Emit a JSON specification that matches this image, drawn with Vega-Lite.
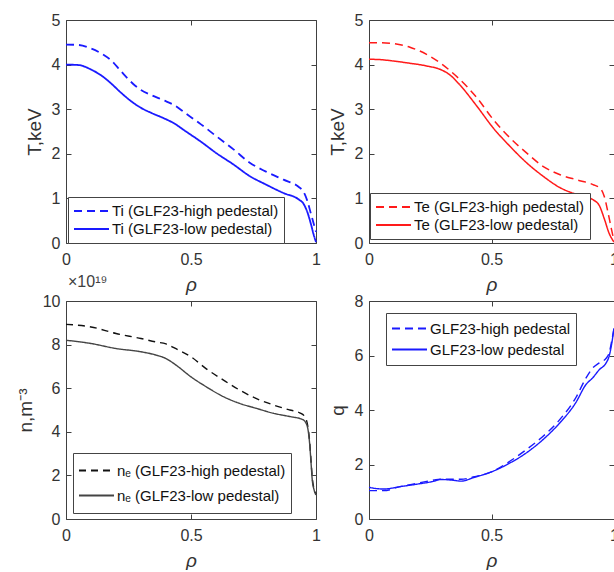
{
  "$schema": "https://vega.github.io/schema/vega-lite/v6.json",
  "padding": {"left": 16, "top": 12, "right": 0, "bottom": 0},
  "background": "white",
  "datasets": {
    "ti": [
      {"rho": 0, "v": 4.45, "s": "Ti (GLF23-high pedestal)"},
      {"rho": 0.05, "v": 4.44, "s": "Ti (GLF23-high pedestal)"},
      {"rho": 0.1, "v": 4.36, "s": "Ti (GLF23-high pedestal)"},
      {"rho": 0.15, "v": 4.22, "s": "Ti (GLF23-high pedestal)"},
      {"rho": 0.18, "v": 4.1, "s": "Ti (GLF23-high pedestal)"},
      {"rho": 0.22, "v": 3.85, "s": "Ti (GLF23-high pedestal)"},
      {"rho": 0.27, "v": 3.56, "s": "Ti (GLF23-high pedestal)"},
      {"rho": 0.3, "v": 3.43, "s": "Ti (GLF23-high pedestal)"},
      {"rho": 0.34, "v": 3.32, "s": "Ti (GLF23-high pedestal)"},
      {"rho": 0.39, "v": 3.2, "s": "Ti (GLF23-high pedestal)"},
      {"rho": 0.43, "v": 3.1, "s": "Ti (GLF23-high pedestal)"},
      {"rho": 0.48, "v": 2.9, "s": "Ti (GLF23-high pedestal)"},
      {"rho": 0.54, "v": 2.66, "s": "Ti (GLF23-high pedestal)"},
      {"rho": 0.6, "v": 2.4, "s": "Ti (GLF23-high pedestal)"},
      {"rho": 0.67, "v": 2.1, "s": "Ti (GLF23-high pedestal)"},
      {"rho": 0.735, "v": 1.8, "s": "Ti (GLF23-high pedestal)"},
      {"rho": 0.8, "v": 1.6, "s": "Ti (GLF23-high pedestal)"},
      {"rho": 0.87, "v": 1.42, "s": "Ti (GLF23-high pedestal)"},
      {"rho": 0.93, "v": 1.26, "s": "Ti (GLF23-high pedestal)"},
      {"rho": 0.95, "v": 1.15, "s": "Ti (GLF23-high pedestal)"},
      {"rho": 0.965, "v": 0.95, "s": "Ti (GLF23-high pedestal)"},
      {"rho": 0.98, "v": 0.65, "s": "Ti (GLF23-high pedestal)"},
      {"rho": 0.99, "v": 0.45, "s": "Ti (GLF23-high pedestal)"},
      {"rho": 1.0, "v": 0.25, "s": "Ti (GLF23-high pedestal)"},
      {"rho": 0, "v": 4.0, "s": "Ti (GLF23-low pedestal)"},
      {"rho": 0.05, "v": 3.99, "s": "Ti (GLF23-low pedestal)"},
      {"rho": 0.1, "v": 3.89, "s": "Ti (GLF23-low pedestal)"},
      {"rho": 0.15, "v": 3.72, "s": "Ti (GLF23-low pedestal)"},
      {"rho": 0.18, "v": 3.58, "s": "Ti (GLF23-low pedestal)"},
      {"rho": 0.22, "v": 3.37, "s": "Ti (GLF23-low pedestal)"},
      {"rho": 0.27, "v": 3.14, "s": "Ti (GLF23-low pedestal)"},
      {"rho": 0.3, "v": 3.03, "s": "Ti (GLF23-low pedestal)"},
      {"rho": 0.34, "v": 2.92, "s": "Ti (GLF23-low pedestal)"},
      {"rho": 0.39, "v": 2.8, "s": "Ti (GLF23-low pedestal)"},
      {"rho": 0.43, "v": 2.69, "s": "Ti (GLF23-low pedestal)"},
      {"rho": 0.48, "v": 2.5, "s": "Ti (GLF23-low pedestal)"},
      {"rho": 0.54, "v": 2.27, "s": "Ti (GLF23-low pedestal)"},
      {"rho": 0.6, "v": 2.02, "s": "Ti (GLF23-low pedestal)"},
      {"rho": 0.67, "v": 1.76, "s": "Ti (GLF23-low pedestal)"},
      {"rho": 0.735, "v": 1.5, "s": "Ti (GLF23-low pedestal)"},
      {"rho": 0.8, "v": 1.31, "s": "Ti (GLF23-low pedestal)"},
      {"rho": 0.87, "v": 1.12, "s": "Ti (GLF23-low pedestal)"},
      {"rho": 0.93, "v": 0.98, "s": "Ti (GLF23-low pedestal)"},
      {"rho": 0.95, "v": 0.88, "s": "Ti (GLF23-low pedestal)"},
      {"rho": 0.965, "v": 0.7, "s": "Ti (GLF23-low pedestal)"},
      {"rho": 0.98, "v": 0.42, "s": "Ti (GLF23-low pedestal)"},
      {"rho": 0.99, "v": 0.2, "s": "Ti (GLF23-low pedestal)"},
      {"rho": 1.0, "v": 0.02, "s": "Ti (GLF23-low pedestal)"}
    ],
    "te": [
      {"rho": 0, "v": 4.49, "s": "Te (GLF23-high pedestal)"},
      {"rho": 0.05, "v": 4.49, "s": "Te (GLF23-high pedestal)"},
      {"rho": 0.1, "v": 4.47, "s": "Te (GLF23-high pedestal)"},
      {"rho": 0.167, "v": 4.39, "s": "Te (GLF23-high pedestal)"},
      {"rho": 0.235, "v": 4.23, "s": "Te (GLF23-high pedestal)"},
      {"rho": 0.3, "v": 4.0, "s": "Te (GLF23-high pedestal)"},
      {"rho": 0.37, "v": 3.67, "s": "Te (GLF23-high pedestal)"},
      {"rho": 0.44, "v": 3.26, "s": "Te (GLF23-high pedestal)"},
      {"rho": 0.507, "v": 2.77, "s": "Te (GLF23-high pedestal)"},
      {"rho": 0.575, "v": 2.36, "s": "Te (GLF23-high pedestal)"},
      {"rho": 0.643, "v": 2.02, "s": "Te (GLF23-high pedestal)"},
      {"rho": 0.71, "v": 1.72, "s": "Te (GLF23-high pedestal)"},
      {"rho": 0.78, "v": 1.53, "s": "Te (GLF23-high pedestal)"},
      {"rho": 0.846, "v": 1.42, "s": "Te (GLF23-high pedestal)"},
      {"rho": 0.914, "v": 1.31, "s": "Te (GLF23-high pedestal)"},
      {"rho": 0.945, "v": 1.22, "s": "Te (GLF23-high pedestal)"},
      {"rho": 0.96, "v": 1.05, "s": "Te (GLF23-high pedestal)"},
      {"rho": 0.975, "v": 0.7, "s": "Te (GLF23-high pedestal)"},
      {"rho": 0.99, "v": 0.3, "s": "Te (GLF23-high pedestal)"},
      {"rho": 1.0, "v": 0.05, "s": "Te (GLF23-high pedestal)"},
      {"rho": 0, "v": 4.12, "s": "Te (GLF23-low pedestal)"},
      {"rho": 0.05, "v": 4.11, "s": "Te (GLF23-low pedestal)"},
      {"rho": 0.1, "v": 4.08, "s": "Te (GLF23-low pedestal)"},
      {"rho": 0.167, "v": 4.03, "s": "Te (GLF23-low pedestal)"},
      {"rho": 0.235, "v": 3.97, "s": "Te (GLF23-low pedestal)"},
      {"rho": 0.3, "v": 3.87, "s": "Te (GLF23-low pedestal)"},
      {"rho": 0.33, "v": 3.77, "s": "Te (GLF23-low pedestal)"},
      {"rho": 0.37, "v": 3.55, "s": "Te (GLF23-low pedestal)"},
      {"rho": 0.44, "v": 3.07, "s": "Te (GLF23-low pedestal)"},
      {"rho": 0.507, "v": 2.58, "s": "Te (GLF23-low pedestal)"},
      {"rho": 0.575, "v": 2.17, "s": "Te (GLF23-low pedestal)"},
      {"rho": 0.643, "v": 1.8, "s": "Te (GLF23-low pedestal)"},
      {"rho": 0.71, "v": 1.5, "s": "Te (GLF23-low pedestal)"},
      {"rho": 0.78, "v": 1.24, "s": "Te (GLF23-low pedestal)"},
      {"rho": 0.846, "v": 1.09, "s": "Te (GLF23-low pedestal)"},
      {"rho": 0.914, "v": 0.97, "s": "Te (GLF23-low pedestal)"},
      {"rho": 0.94, "v": 0.84, "s": "Te (GLF23-low pedestal)"},
      {"rho": 0.96, "v": 0.55, "s": "Te (GLF23-low pedestal)"},
      {"rho": 0.98, "v": 0.22, "s": "Te (GLF23-low pedestal)"},
      {"rho": 1.0, "v": 0.02, "s": "Te (GLF23-low pedestal)"}
    ],
    "ne": [
      {"rho": 0, "v": 8.93, "s": "nₑ (GLF23-high pedestal)"},
      {"rho": 0.1, "v": 8.81, "s": "nₑ (GLF23-high pedestal)"},
      {"rho": 0.2, "v": 8.51, "s": "nₑ (GLF23-high pedestal)"},
      {"rho": 0.3, "v": 8.28, "s": "nₑ (GLF23-high pedestal)"},
      {"rho": 0.36, "v": 8.12, "s": "nₑ (GLF23-high pedestal)"},
      {"rho": 0.4, "v": 8.03, "s": "nₑ (GLF23-high pedestal)"},
      {"rho": 0.44, "v": 7.81, "s": "nₑ (GLF23-high pedestal)"},
      {"rho": 0.5, "v": 7.44, "s": "nₑ (GLF23-high pedestal)"},
      {"rho": 0.56, "v": 6.9, "s": "nₑ (GLF23-high pedestal)"},
      {"rho": 0.63, "v": 6.37, "s": "nₑ (GLF23-high pedestal)"},
      {"rho": 0.695, "v": 5.91, "s": "nₑ (GLF23-high pedestal)"},
      {"rho": 0.76, "v": 5.53, "s": "nₑ (GLF23-high pedestal)"},
      {"rho": 0.83, "v": 5.23, "s": "nₑ (GLF23-high pedestal)"},
      {"rho": 0.895, "v": 5.0, "s": "nₑ (GLF23-high pedestal)"},
      {"rho": 0.935, "v": 4.87, "s": "nₑ (GLF23-high pedestal)"},
      {"rho": 0.955, "v": 4.7, "s": "nₑ (GLF23-high pedestal)"},
      {"rho": 0.968, "v": 4.2, "s": "nₑ (GLF23-high pedestal)"},
      {"rho": 0.975, "v": 3.5, "s": "nₑ (GLF23-high pedestal)"},
      {"rho": 0.98, "v": 2.7, "s": "nₑ (GLF23-high pedestal)"},
      {"rho": 0.985, "v": 1.9, "s": "nₑ (GLF23-high pedestal)"},
      {"rho": 0.992, "v": 1.4, "s": "nₑ (GLF23-high pedestal)"},
      {"rho": 1.0, "v": 1.15, "s": "nₑ (GLF23-high pedestal)"},
      {"rho": 0, "v": 8.2, "s": "nₑ (GLF23-low pedestal)"},
      {"rho": 0.1, "v": 8.05, "s": "nₑ (GLF23-low pedestal)"},
      {"rho": 0.2, "v": 7.82, "s": "nₑ (GLF23-low pedestal)"},
      {"rho": 0.3, "v": 7.67, "s": "nₑ (GLF23-low pedestal)"},
      {"rho": 0.36, "v": 7.52, "s": "nₑ (GLF23-low pedestal)"},
      {"rho": 0.4, "v": 7.36, "s": "nₑ (GLF23-low pedestal)"},
      {"rho": 0.44, "v": 7.06, "s": "nₑ (GLF23-low pedestal)"},
      {"rho": 0.5, "v": 6.52, "s": "nₑ (GLF23-low pedestal)"},
      {"rho": 0.56, "v": 6.07, "s": "nₑ (GLF23-low pedestal)"},
      {"rho": 0.63, "v": 5.61, "s": "nₑ (GLF23-low pedestal)"},
      {"rho": 0.695, "v": 5.3, "s": "nₑ (GLF23-low pedestal)"},
      {"rho": 0.76, "v": 5.08, "s": "nₑ (GLF23-low pedestal)"},
      {"rho": 0.83, "v": 4.85, "s": "nₑ (GLF23-low pedestal)"},
      {"rho": 0.895, "v": 4.7, "s": "nₑ (GLF23-low pedestal)"},
      {"rho": 0.945, "v": 4.57, "s": "nₑ (GLF23-low pedestal)"},
      {"rho": 0.96, "v": 4.4, "s": "nₑ (GLF23-low pedestal)"},
      {"rho": 0.968, "v": 4.1, "s": "nₑ (GLF23-low pedestal)"},
      {"rho": 0.975, "v": 3.4, "s": "nₑ (GLF23-low pedestal)"},
      {"rho": 0.98, "v": 2.6, "s": "nₑ (GLF23-low pedestal)"},
      {"rho": 0.985, "v": 1.8, "s": "nₑ (GLF23-low pedestal)"},
      {"rho": 0.992, "v": 1.35, "s": "nₑ (GLF23-low pedestal)"},
      {"rho": 1.0, "v": 1.1, "s": "nₑ (GLF23-low pedestal)"}
    ],
    "q": [
      {"rho": 0, "v": 1.04, "s": "GLF23-high pedestal"},
      {"rho": 0.06, "v": 1.04, "s": "GLF23-high pedestal"},
      {"rho": 0.128, "v": 1.19, "s": "GLF23-high pedestal"},
      {"rho": 0.197, "v": 1.31, "s": "GLF23-high pedestal"},
      {"rho": 0.266, "v": 1.43, "s": "GLF23-high pedestal"},
      {"rho": 0.29, "v": 1.46, "s": "GLF23-high pedestal"},
      {"rho": 0.335, "v": 1.46, "s": "GLF23-high pedestal"},
      {"rho": 0.376, "v": 1.46, "s": "GLF23-high pedestal"},
      {"rho": 0.43, "v": 1.55, "s": "GLF23-high pedestal"},
      {"rho": 0.5, "v": 1.73, "s": "GLF23-high pedestal"},
      {"rho": 0.57, "v": 2.09, "s": "GLF23-high pedestal"},
      {"rho": 0.638, "v": 2.52, "s": "GLF23-high pedestal"},
      {"rho": 0.706, "v": 3.0, "s": "GLF23-high pedestal"},
      {"rho": 0.775, "v": 3.61, "s": "GLF23-high pedestal"},
      {"rho": 0.844, "v": 4.45, "s": "GLF23-high pedestal"},
      {"rho": 0.886, "v": 5.18, "s": "GLF23-high pedestal"},
      {"rho": 0.913, "v": 5.54, "s": "GLF23-high pedestal"},
      {"rho": 0.94, "v": 5.73, "s": "GLF23-high pedestal"},
      {"rho": 0.968, "v": 5.9, "s": "GLF23-high pedestal"},
      {"rho": 0.98, "v": 6.09, "s": "GLF23-high pedestal"},
      {"rho": 0.99, "v": 6.5, "s": "GLF23-high pedestal"},
      {"rho": 1.0, "v": 7.0, "s": "GLF23-high pedestal"},
      {"rho": 0, "v": 1.16, "s": "GLF23-low pedestal"},
      {"rho": 0.06, "v": 1.1, "s": "GLF23-low pedestal"},
      {"rho": 0.128, "v": 1.19, "s": "GLF23-low pedestal"},
      {"rho": 0.197, "v": 1.28, "s": "GLF23-low pedestal"},
      {"rho": 0.266, "v": 1.39, "s": "GLF23-low pedestal"},
      {"rho": 0.29, "v": 1.45, "s": "GLF23-low pedestal"},
      {"rho": 0.335, "v": 1.43, "s": "GLF23-low pedestal"},
      {"rho": 0.376, "v": 1.39, "s": "GLF23-low pedestal"},
      {"rho": 0.43, "v": 1.53, "s": "GLF23-low pedestal"},
      {"rho": 0.5, "v": 1.73, "s": "GLF23-low pedestal"},
      {"rho": 0.57, "v": 2.03, "s": "GLF23-low pedestal"},
      {"rho": 0.638, "v": 2.4, "s": "GLF23-low pedestal"},
      {"rho": 0.706, "v": 2.88, "s": "GLF23-low pedestal"},
      {"rho": 0.775, "v": 3.49, "s": "GLF23-low pedestal"},
      {"rho": 0.844, "v": 4.27, "s": "GLF23-low pedestal"},
      {"rho": 0.886, "v": 4.94, "s": "GLF23-low pedestal"},
      {"rho": 0.913, "v": 5.18, "s": "GLF23-low pedestal"},
      {"rho": 0.94, "v": 5.48, "s": "GLF23-low pedestal"},
      {"rho": 0.968, "v": 5.73, "s": "GLF23-low pedestal"},
      {"rho": 0.98, "v": 5.97, "s": "GLF23-low pedestal"},
      {"rho": 0.99, "v": 6.4, "s": "GLF23-low pedestal"},
      {"rho": 1.0, "v": 7.0, "s": "GLF23-low pedestal"}
    ]
  },
  "columns": 2,
  "bounds": "flush",
  "spacing": {"row": 58, "column": 53},
  "resolve": {
    "scale": {"color": "independent", "strokeDash": "independent"},
    "legend": {"color": "independent", "strokeDash": "independent"}
  },
  "concat": [
    {
      "data": {"name": "ti"},
      "width": 250, "height": 223,
      "layer": [
        {
          "mark": {"type": "line", "strokeWidth": 1.8, "interpolate": "monotone"},
          "encoding": {
            "x": {"field": "rho", "type": "quantitative", "scale": {"domain": [0, 1], "nice": false}, "axis": {"values": [0, 0.5, 1], "format": "~g", "title": "ρ", "titleFontStyle": "italic", "labelPadding": 13, "titlePadding": 8}},
            "y": {"field": "v", "type": "quantitative", "scale": {"domain": [0, 5], "nice": false}, "axis": {"values": [0, 1, 2, 3, 4, 5], "title": "T,keV", "labelPadding": 11, "titlePadding": 7}},
            "color": {"field": "s", "type": "nominal", "scale": {"domain": ["Ti (GLF23-high pedestal)", "Ti (GLF23-low pedestal)"], "range": ["#1a1aff", "#1a1aff"]}, "legend": {"title": null, "orient": "none", "legendX": 2, "legendY": 177}},
            "strokeDash": {"field": "s", "type": "nominal", "scale": {"domain": ["Ti (GLF23-high pedestal)", "Ti (GLF23-low pedestal)"], "range": [[8, 5], [1, 0]]}, "legend": {"title": null, "orient": "none", "legendX": 2, "legendY": 177}}
          }
        },
        {
          "mark": {"type": "line", "strokeOpacity": 0},
          "encoding": {
            "x": {"field": "rho", "type": "quantitative", "scale": {"domain": [0, 1], "nice": false}, "axis": {"orient": "top", "values": [0, 0.5, 1], "labels": false, "title": ""}},
            "y": {"field": "v", "type": "quantitative", "scale": {"domain": [0, 5], "nice": false}, "axis": {"orient": "right", "values": [0, 1, 2, 3, 4, 5], "labels": false, "title": ""}}
          }
        }
      ],
      "resolve": {"scale": {"x": "independent", "y": "independent"}, "axis": {"x": "independent", "y": "independent"}}
    },
    {
      "data": {"name": "te"},
      "width": 245, "height": 223,
      "layer": [
        {
          "mark": {"type": "line", "strokeWidth": 1.5, "interpolate": "monotone"},
          "encoding": {
            "x": {"field": "rho", "type": "quantitative", "scale": {"domain": [0, 1], "nice": false}, "axis": {"values": [0, 0.5, 1], "format": "~g", "title": "ρ", "titleFontStyle": "italic", "labelPadding": 13, "titlePadding": 8}},
            "y": {"field": "v", "type": "quantitative", "scale": {"domain": [0, 5], "nice": false}, "axis": {"values": [0, 1, 2, 3, 4, 5], "title": "T,keV", "labelPadding": 11, "titlePadding": 7}},
            "color": {"field": "s", "type": "nominal", "scale": {"domain": ["Te (GLF23-high pedestal)", "Te (GLF23-low pedestal)"], "range": ["#ff1a1a", "#ff1a1a"]}, "legend": {"title": null, "orient": "none", "legendX": 1, "legendY": 173}},
            "strokeDash": {"field": "s", "type": "nominal", "scale": {"domain": ["Te (GLF23-high pedestal)", "Te (GLF23-low pedestal)"], "range": [[8, 5], [1, 0]]}, "legend": {"title": null, "orient": "none", "legendX": 1, "legendY": 173}}
          }
        },
        {
          "mark": {"type": "line", "strokeOpacity": 0},
          "encoding": {
            "x": {"field": "rho", "type": "quantitative", "scale": {"domain": [0, 1], "nice": false}, "axis": {"orient": "top", "values": [0, 0.5, 1], "labels": false, "title": ""}},
            "y": {"field": "v", "type": "quantitative", "scale": {"domain": [0, 5], "nice": false}, "axis": {"orient": "right", "values": [0, 1, 2, 3, 4, 5], "labels": false, "title": ""}}
          }
        }
      ],
      "resolve": {"scale": {"x": "independent", "y": "independent"}, "axis": {"x": "independent", "y": "independent"}}
    },
    {
      "data": {"name": "ne"},
      "width": 250, "height": 218,
      "title": {"text": "×10¹⁹", "anchor": "start", "frame": "group", "fontSize": 16, "fontWeight": "normal", "font": "Liberation Sans", "color": "#404040", "offset": 3, "dx": 2},
      "layer": [
        {
          "mark": {"type": "line", "strokeWidth": 1.4, "interpolate": "monotone"},
          "encoding": {
            "x": {"field": "rho", "type": "quantitative", "scale": {"domain": [0, 1], "nice": false}, "axis": {"values": [0, 0.5, 1], "format": "~g", "title": "ρ", "titleFontStyle": "italic", "labelPadding": 13, "titlePadding": 8}},
            "y": {"field": "v", "type": "quantitative", "scale": {"domain": [0, 10], "nice": false}, "axis": {"values": [0, 2, 4, 6, 8, 10], "title": "n,m⁻³", "labelPadding": 11, "titlePadding": 7}},
            "color": {"field": "s", "type": "nominal", "scale": {"domain": ["nₑ (GLF23-high pedestal)", "nₑ (GLF23-low pedestal)"], "range": ["#111111", "#444444"]}, "legend": {"title": null, "orient": "none", "legendX": 7, "legendY": 152, "clipHeight": 25}},
            "strokeDash": {"field": "s", "type": "nominal", "scale": {"domain": ["nₑ (GLF23-high pedestal)", "nₑ (GLF23-low pedestal)"], "range": [[7, 5], [1, 0]]}, "legend": {"title": null, "orient": "none", "legendX": 7, "legendY": 152, "clipHeight": 25}}
          }
        },
        {
          "mark": {"type": "line", "strokeOpacity": 0},
          "encoding": {
            "x": {"field": "rho", "type": "quantitative", "scale": {"domain": [0, 1], "nice": false}, "axis": {"orient": "top", "values": [0, 0.5, 1], "labels": false, "title": ""}},
            "y": {"field": "v", "type": "quantitative", "scale": {"domain": [0, 10], "nice": false}, "axis": {"orient": "right", "values": [0, 2, 4, 6, 8, 10], "labels": false, "title": ""}}
          }
        }
      ],
      "resolve": {"scale": {"x": "independent", "y": "independent"}, "axis": {"x": "independent", "y": "independent"}}
    },
    {
      "data": {"name": "q"},
      "width": 245, "height": 218,
      "layer": [
        {
          "mark": {"type": "line", "strokeWidth": 1.4, "interpolate": "monotone"},
          "encoding": {
            "x": {"field": "rho", "type": "quantitative", "scale": {"domain": [0, 1], "nice": false}, "axis": {"values": [0, 0.5, 1], "format": "~g", "title": "ρ", "titleFontStyle": "italic", "labelPadding": 13, "titlePadding": 8}},
            "y": {"field": "v", "type": "quantitative", "scale": {"domain": [0, 8], "nice": false}, "axis": {"values": [0, 2, 4, 6, 8], "title": "q", "labelPadding": 11, "titlePadding": 7}},
            "color": {"field": "s", "type": "nominal", "scale": {"domain": ["GLF23-high pedestal", "GLF23-low pedestal"], "range": ["#1a1aff", "#1a1aff"]}, "legend": {"title": null, "orient": "none", "legendX": 17, "legendY": 12, "clipHeight": 21}},
            "strokeDash": {"field": "s", "type": "nominal", "scale": {"domain": ["GLF23-high pedestal", "GLF23-low pedestal"], "range": [[8, 5], [1, 0]]}, "legend": {"title": null, "orient": "none", "legendX": 17, "legendY": 12, "clipHeight": 21}}
          }
        },
        {
          "mark": {"type": "line", "strokeOpacity": 0},
          "encoding": {
            "x": {"field": "rho", "type": "quantitative", "scale": {"domain": [0, 1], "nice": false}, "axis": {"orient": "top", "values": [0, 0.5, 1], "labels": false, "title": ""}},
            "y": {"field": "v", "type": "quantitative", "scale": {"domain": [0, 8], "nice": false}, "axis": {"orient": "right", "values": [0, 2, 4, 6, 8], "labels": false, "title": ""}}
          }
        }
      ],
      "resolve": {"scale": {"x": "independent", "y": "independent"}, "axis": {"x": "independent", "y": "independent"}}
    }
  ],
  "config": {
    "font": "Liberation Sans",
    "view": {"stroke": null},
    "axis": {
      "labelFont": "Liberation Sans", "labelFontSize": 16, "labelColor": "#333333",
      "titleFont": "Liberation Sans", "titleFontSize": 19, "titleFontWeight": "normal", "titleColor": "#333333",
      "domainColor": "#404040", "tickColor": "#404040", "tickSize": -5, "grid": false,
      "labelFlush": false, "domainWidth": 1, "tickWidth": 1, "labelOverlap": false
    },
    "legend": {
      "symbolType": "stroke", "symbolSize": 1225, "symbolStrokeWidth": 1.8,
      "clipHeight": 18, "labelFont": "Liberation Sans", "labelFontSize": 15, "labelColor": "#111111",
      "strokeColor": "#444444", "fillColor": "white", "padding": 5, "labelOffset": 2,
      "rowPadding": 0, "labelLimit": 400
    }
  }
}
